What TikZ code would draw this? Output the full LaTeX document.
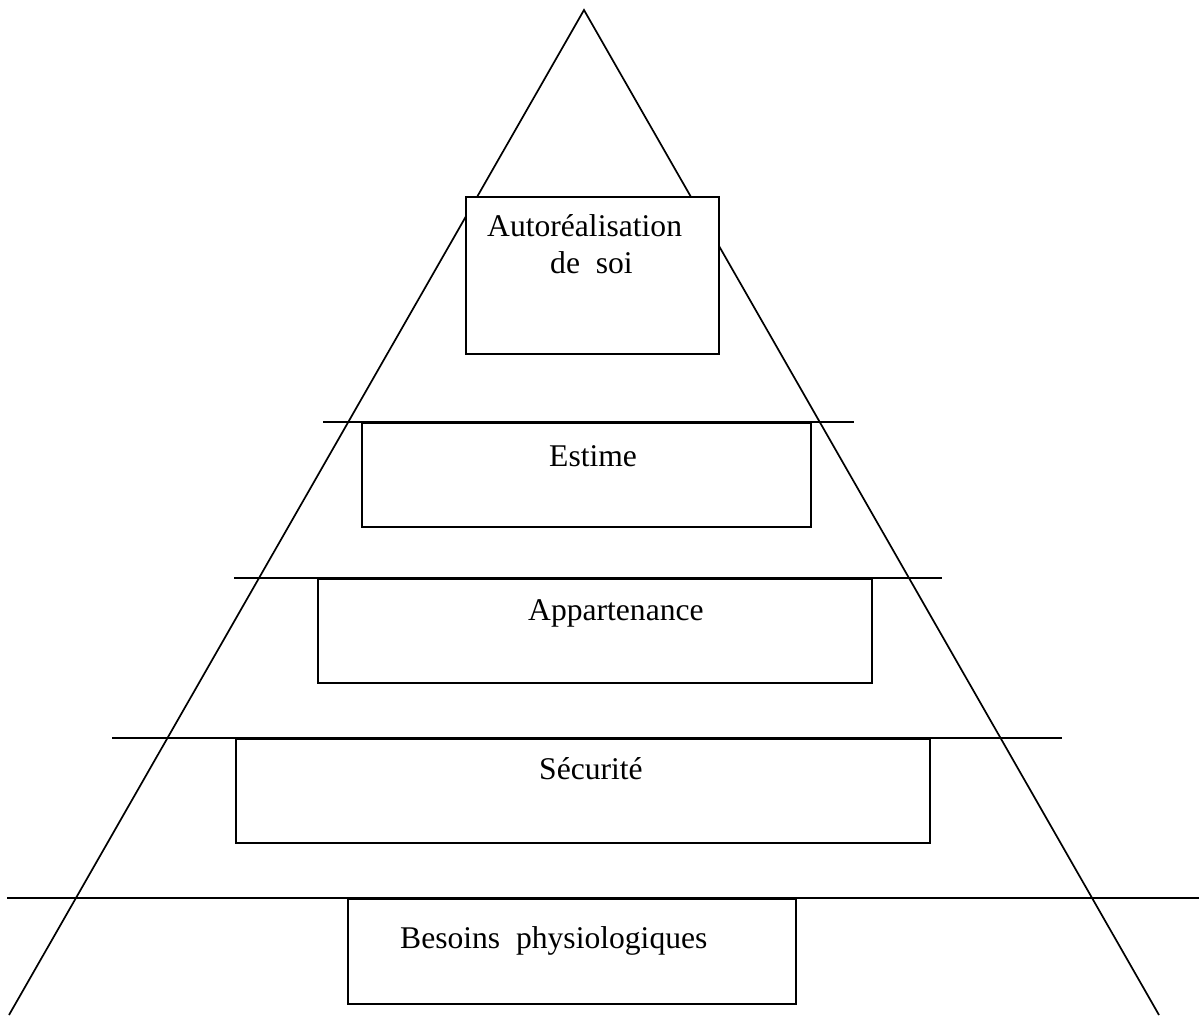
\documentclass[tikz,border=0pt]{standalone}
\usepackage{fontspec}
\setmainfont{Liberation Serif}
\begin{document}
\begin{tikzpicture}[x=1pt,y=-1pt,
  edge/.style={line width=1.7pt, line cap=butt},
  level/.style={draw, line width=2.1pt, fill=white, rectangle, inner sep=0pt, anchor=north west},
  label/.style={inner sep=0pt, anchor=base west, font=\fontsize{31.6}{37}\selectfont}]
  \useasboundingbox[fill=white] (0,0) rectangle (1199,1015);

  % pyramid outline
  \coordinate (apex) at (584,10);
  \coordinate (baseL) at (9,1015);
  \coordinate (baseR) at (1159,1015);
  \draw[edge, line join=miter] (baseL) -- (apex) -- (baseR);

  % level separators
  \coordinate (s1a) at (323,422);  \coordinate (s1b) at (854,422);
  \coordinate (s2a) at (234,578);  \coordinate (s2b) at (942,578);
  \coordinate (s3a) at (112,738);  \coordinate (s3b) at (1062,738);
  \coordinate (s4a) at (7,898);    \coordinate (s4b) at (1199,898);
  \draw[edge] (s1a) -- (s1b);
  \draw[edge] (s2a) -- (s2b);
  \draw[edge] (s3a) -- (s3b);
  \draw[edge] (s4a) -- (s4b);

  % level boxes
  \node[level, minimum width=253pt, minimum height=157pt] (b5) at (465,196) {};
  \node[level, minimum width=449pt, minimum height=104pt] (b4) at (361,422) {};
  \node[level, minimum width=554pt, minimum height=104pt] (b3) at (317,578) {};
  \node[level, minimum width=694pt, minimum height=104pt] (b2) at (235,738) {};
  \node[level, minimum width=448pt, minimum height=105pt] (b1) at (347,898) {};

  % level names
  \node[label] (t5a) at (487,236) {Autoréalisation};
  \node[label] (t5b) at (550,273) {de\ \ soi};
  \node[label] (t4) at (549,466) {Estime};
  \node[label] (t3) at (528,620) {Appartenance};
  \node[label] (t2) at (539,779) {Sécurité};
  \node[label] (t1) at (400,948) {Besoins\ \ physiologiques};
\end{tikzpicture}
\end{document}
